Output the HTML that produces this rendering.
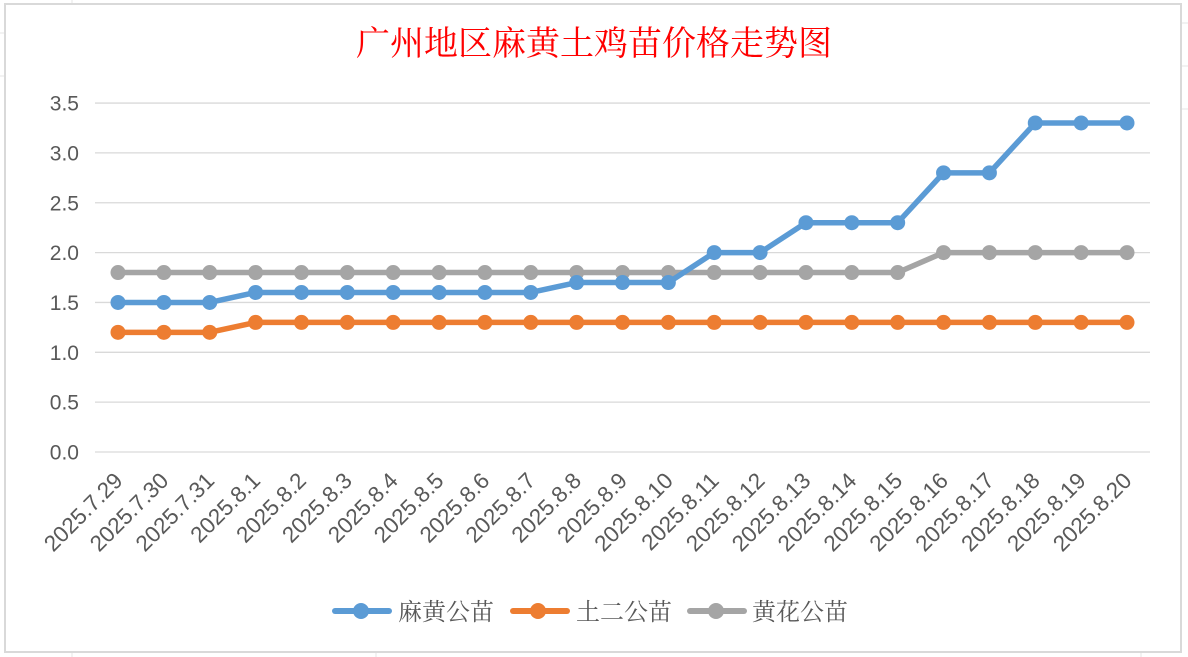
<!DOCTYPE html>
<html><head><meta charset="utf-8"><style>
html,body{margin:0;padding:0;background:#fff;width:1188px;height:657px;overflow:hidden}
</style></head><body>
<svg id="s" width="1188" height="657" xmlns="http://www.w3.org/2000/svg">
<rect x="0" y="0" width="1188" height="657" fill="#fff"/>
<g stroke="#e6e6e6" stroke-width="1">
<line x1="72" y1="0" x2="72" y2="4"/><line x1="0" y1="33" x2="5" y2="33"/><line x1="0" y1="76" x2="5" y2="76"/>
<line x1="72" y1="652" x2="72" y2="657"/><line x1="376" y1="652" x2="376" y2="657"/><line x1="1141" y1="652" x2="1141" y2="657"/>
<line x1="1181" y1="23" x2="1188" y2="23"/><line x1="1181" y1="66" x2="1188" y2="66"/><line x1="1181" y1="109" x2="1188" y2="109"/>
</g>
<rect x="5" y="4" width="1176" height="648" fill="#fff" stroke="#d9d9d9" stroke-width="2"/>
<text x="594" y="55" text-anchor="middle" font-family="'Liberation Serif','Noto Serif CJK SC',serif" font-size="34" fill="#ff0000">广州地区麻黄土鸡苗价格走势图</text>
<g id="grid"></g><g id="ser"></g><g id="lab"></g>
<g font-family="'Liberation Sans','Noto Serif CJK SC',serif" font-size="24" fill="#595959">
<line x1="335" y1="611" x2="389" y2="611" stroke="#5b9bd5" stroke-width="6" stroke-linecap="round"/><circle cx="361" cy="611" r="8" fill="#5b9bd5"/>
<text x="398" y="620">麻黄公苗</text>
<line x1="513" y1="611" x2="567" y2="611" stroke="#ed7d31" stroke-width="6" stroke-linecap="round"/><circle cx="538" cy="611" r="8" fill="#ed7d31"/>
<text x="576" y="620">土二公苗</text>
<line x1="690" y1="611" x2="744" y2="611" stroke="#a5a5a5" stroke-width="6" stroke-linecap="round"/><circle cx="716" cy="611" r="8" fill="#a5a5a5"/>
<text x="752" y="620">黄花公苗</text>
</g>
</svg>
<script>
const NS="http://www.w3.org/2000/svg";
function el(p,t,a,txt){const e=document.createElementNS(NS,t);for(const k in a)e.setAttribute(k,a[k]);if(txt!==undefined)e.textContent=txt;p.appendChild(e);return e;}
const g=document.getElementById('grid'),s=document.getElementById('ser'),l=document.getElementById('lab');
const Y=v=>452-v*99.7;
for(let i=0;i<=7;i++){const v=i*0.5,y=Y(v);
el(g,'line',{x1:95,x2:1150,y1:y,y2:y,stroke:'#d9d9d9','stroke-width':1.3});
el(g,'text',{x:79,y:y+7.5,'text-anchor':'end','font-family':'Liberation Sans,sans-serif','font-size':21,fill:'#595959'},v.toFixed(1));}
const labs=['2025.7.29','2025.7.30','2025.7.31'];for(let d=1;d<=20;d++)labs.push('2025.8.'+d);
const X=i=>118+i*(1009/22);
labs.forEach((t,i)=>{const x=X(i)+6,y=482;
el(l,'text',{x:x,y:y,'text-anchor':'end',transform:`rotate(-45 ${x} ${y})`,'font-family':'Liberation Sans,sans-serif','font-size':22.5,fill:'#595959'},t);});
const blue=[1.5,1.5,1.5,1.6,1.6,1.6,1.6,1.6,1.6,1.6,1.7,1.7,1.7,2.0,2.0,2.3,2.3,2.3,2.8,2.8,3.3,3.3,3.3];
const orange=[1.2,1.2,1.2];while(orange.length<23)orange.push(1.3);
const gray=[];for(let i=0;i<23;i++)gray.push(i<18?1.8:2.0);
[[gray,'#a5a5a5'],[orange,'#ed7d31'],[blue,'#5b9bd5']].forEach(([d,c])=>{
el(s,'polyline',{points:d.map((v,i)=>X(i)+','+Y(v)).join(' '),fill:'none',stroke:c,'stroke-width':5.5,'stroke-linejoin':'round'});
d.forEach((v,i)=>el(s,'circle',{cx:X(i),cy:Y(v),r:7.5,fill:c}));});
</script>
</body></html>
